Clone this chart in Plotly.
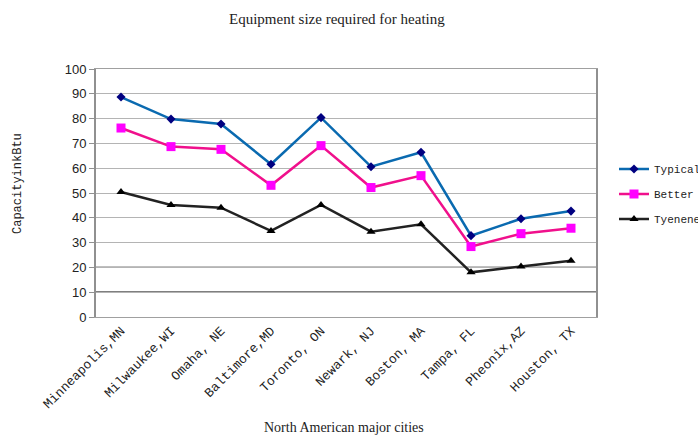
import plotly.graph_objects as go

cities = ["Minneapolis,MN", "Milwaukee,WI", "Omaha, NE", "Baltimore,MD", "Toronto, ON",
          "Newark, NJ", "Boston, MA", "Tampa, FL", "Pheonix,AZ", "Houston, TX"]
typical = [88.7, 79.8, 77.8, 61.6, 80.4, 60.6, 66.4, 32.8, 39.6, 42.7]
better = [76.2, 68.7, 67.6, 53.1, 69.1, 52.2, 57.0, 28.4, 33.6, 35.8]
tyenene = [50.4, 45.2, 44.1, 34.7, 45.2, 34.4, 37.4, 18.0, 20.4, 22.7]
y_ticks = [0, 10, 20, 30, 40, 50, 60, 70, 80, 90, 100]
dark_grid = [10, 20]

mono = "Liberation Mono, Courier New, monospace"
serif = "Liberation Serif, Times New Roman, serif"
sans = "Liberation Sans, Arial, sans-serif"

W, H = 698, 436
L, R, T, B = 96, 102, 69, 119

fig = go.Figure()
series = [
    ("Typical", typical, "#0A6AB0", "#000080", "diamond", 7),
    ("Better", better, "#F0108C", "#FF00FF", "square", 9),
    ("Tyenene", tyenene, "#222222", "#000000", "triangle-up", 8),
]
for name, vals, lc, mc, sym, ms in series:
    fig.add_trace(go.Scatter(
        x=cities, y=vals, name=name, mode="lines+markers",
        line=dict(color=lc, width=2.5),
        marker=dict(symbol=sym, size=ms, color=mc),
        legendgroup=name,
    ))

for v in dark_grid:
    fig.add_hline(y=v, line=dict(color="#000000", width=1.2), layer="below")

# titles placed in pixel terms relative to the plot area
def px_x(x):
    return (x - L) / (W - L - R)

def px_y(y):
    return (H - B - y) / (H - T - B)

fig.add_annotation(text="Equipment size required for heating", xref="paper", yref="paper",
                   x=px_x(337), y=px_y(19), xanchor="center", yanchor="middle",
                   showarrow=False, font=dict(family=serif, size=15, color="#222222"))
fig.add_annotation(text="North American major cities", xref="paper", yref="paper",
                   x=px_x(344), y=px_y(427), xanchor="center", yanchor="middle",
                   showarrow=False, font=dict(family=serif, size=14, color="#222222"))
fig.add_annotation(text="CapacityinkBtu", xref="paper", yref="paper",
                   x=px_x(18), y=px_y(184), xanchor="center", yanchor="middle",
                   textangle=-90, showarrow=False,
                   font=dict(family=mono, size=12, color="#222222"))

fig.update_layout(
    width=W, height=H,
    paper_bgcolor="white", plot_bgcolor="white",
    margin=dict(l=L, r=R, t=T, b=B, autoexpand=False),
    showlegend=True,
    legend=dict(x=1.036, y=0.655, xanchor="left", yanchor="top",
                font=dict(family=mono, size=11, color="#222222"),
                tracegroupgap=6, bgcolor="rgba(0,0,0,0)"),
    xaxis=dict(
        type="category", tickangle=-45,
        tickfont=dict(family=mono, size=13, color="#222222"),
        showgrid=False, showline=True, linecolor="#A0A0A0", linewidth=1, mirror=True,
        ticks="", range=[-0.5, 9.5],
    ),
    yaxis=dict(
        range=[0, 100], tickvals=y_ticks,
        tickfont=dict(family=sans, size=13, color="#222222"),
        showgrid=True, gridcolor="#B4B4B4", gridwidth=1,
        showline=True, linecolor="#909090", linewidth=2, mirror=True,
        ticks="outside", ticklen=5, tickcolor="#909090",
        zeroline=False,
    ),
)

fig.write_html("out.html")
